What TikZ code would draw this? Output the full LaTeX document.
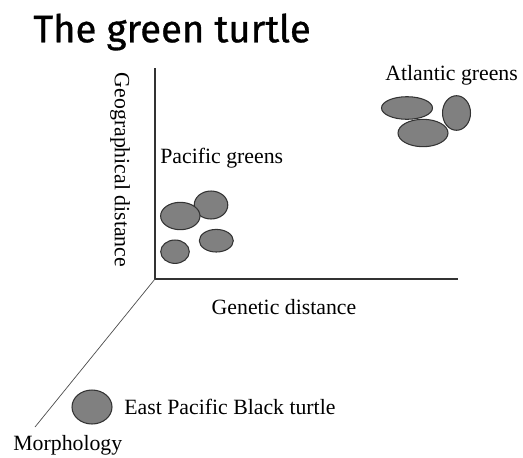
\documentclass[tikz,border=0pt]{standalone}
\usepackage{fontspec}
\setmainfont{Liberation Serif}
\newfontfamily\titlefont[FakeBold=0.8]{Fira Sans}

\begin{document}
\begin{tikzpicture}[x=0.02cm,y=-0.02cm,
  lbl/.style={font=\fontsize{12.4}{14}\selectfont, inner sep=0pt},
  blob/.style={draw=black!80, fill=black!50, line width=0.6pt}]
\useasboundingbox (0,0) rectangle (523,457);
\node[anchor=west, inner sep=0pt, font=\titlefont\fontsize{21.8}{26}\selectfont] (title) at (33,32) {The green turtle};
% axes
\coordinate (origin) at (155,279);
\coordinate (ytop) at (155,68);
\coordinate (xend) at (458,279);
\coordinate (zend) at (35,427);
\draw[black!80, line width=0.6pt] (ytop) -- (origin) -- (xend);
\draw[black!70, line width=0.4pt] (origin) -- (zend);
\node[lbl, rotate=-90] (geo) at (120,170) {Geographical distance};
\node[lbl] (gen) at (284,307) {Genetic distance};
\node[lbl, anchor=west] (morph) at (13,445) {Morphology};
% pacific greens
\node[lbl, anchor=west] (pac) at (160,158) {Pacific greens};
\draw[blob] (211,205) ellipse (16.8 and 14);
\draw[blob] (180.3,216) ellipse (19.7 and 13.7);
\draw[blob] (216.3,240.7) ellipse (17 and 11.3);
\draw[blob] (175,251.7) ellipse (14.3 and 11.7);
% atlantic greens
\node[lbl, anchor=west] (atl) at (385,75) {Atlantic greens};
\draw[blob] (407,108) ellipse (25.5 and 11.3);
\draw[blob] (423,133) ellipse (25 and 13.7);
\draw[blob] (456.5,113) ellipse (14 and 17.3);
% black turtle
\draw[blob] (92,407) ellipse (20 and 17);
\node[lbl, anchor=west] (black) at (124,407) {East Pacific Black turtle};
\end{tikzpicture}
\end{document}
